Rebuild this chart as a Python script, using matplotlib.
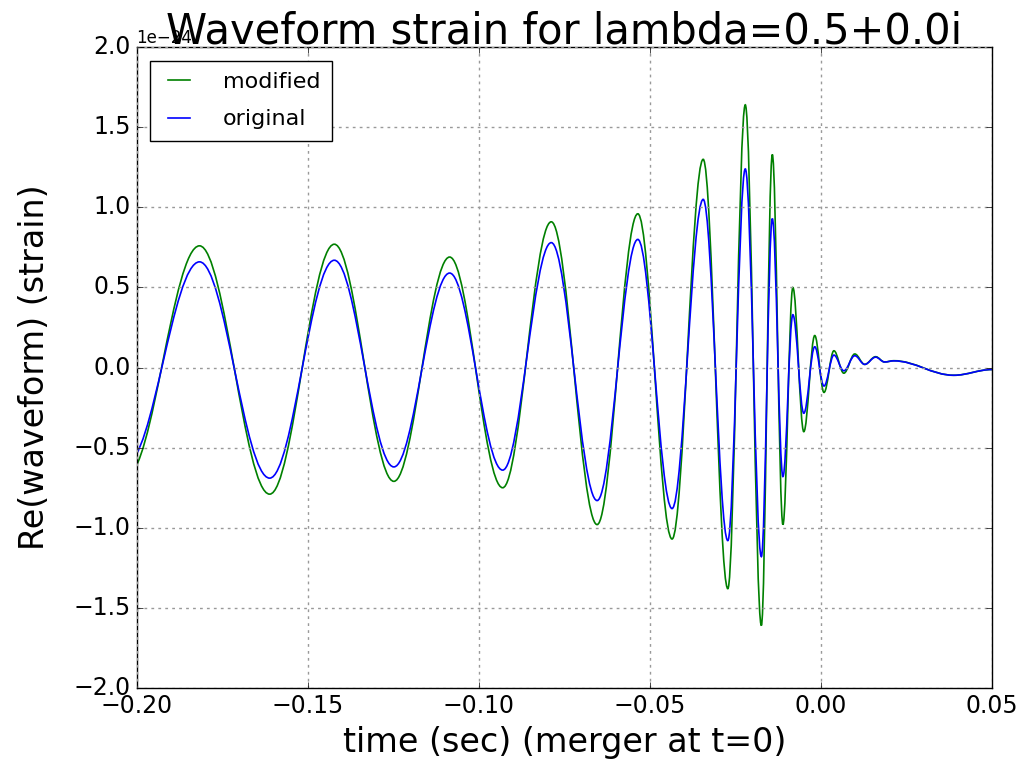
import numpy as np
import matplotlib
matplotlib.use('Agg')
import matplotlib.pyplot as plt
from matplotlib.path import Path
from matplotlib.patches import PathPatch
from matplotlib.lines import Line2D

# turning points of the waveform (time in s, strain in units of 1e-24)
t_ext = np.array([-0.2030, -0.1816, -0.1611, -0.1422, -0.1248, -0.1085, -0.0930,
                  -0.0788, -0.0654, -0.0535, -0.0435, -0.0344, -0.0272, -0.0221,
                  -0.0174, -0.0142, -0.0111, -0.0082, -0.0050, -0.0018, 0.0009,
                  0.0038, 0.0067, 0.0099, 0.0128, 0.0160, 0.0186, 0.0213,
                  0.0388, 0.0500])

h_modified = np.array([-0.68, 0.76, -0.79, 0.77, -0.71, 0.69, -0.75, 0.91, -0.98,
                       0.96, -1.07, 1.30, -1.38, 1.64, -1.61, 1.33, -0.98, 0.50,
                       -0.40, 0.20, -0.155, 0.105, -0.035, 0.085, 0.020, 0.068,
                       0.035, 0.043, -0.048, -0.012])

h_original = np.array([-0.60, 0.66, -0.69, 0.67, -0.62, 0.59, -0.64, 0.78, -0.83,
                       0.80, -0.88, 1.05, -1.08, 1.24, -1.18, 0.93, -0.68, 0.33,
                       -0.285, 0.13, -0.115, 0.078, -0.020, 0.074, 0.020, 0.065,
                       0.035, 0.042, -0.048, -0.012])

scale = 1e-24


def wave_path(t, h, k=0.3642):
    # smooth curve through the turning points (flat tangent at each one)
    verts = [(t[0], h[0])]
    codes = [Path.MOVETO]
    for i in range(len(t) - 1):
        dt = t[i + 1] - t[i]
        verts += [(t[i] + k * dt, h[i]), (t[i + 1] - k * dt, h[i + 1]), (t[i + 1], h[i + 1])]
        codes += [Path.CURVE4] * 3
    return Path(verts, codes)


plt.style.use('classic')
fig = plt.figure(figsize=(10.19, 7.67), dpi=100)
ax = fig.add_axes([0.134, 0.103, 0.8395, 0.8355])

ax.add_patch(PathPatch(wave_path(t_ext, h_modified * scale), fill=False,
                       edgecolor='g', lw=1.2))
ax.add_patch(PathPatch(wave_path(t_ext, h_original * scale), fill=False,
                       edgecolor='b', lw=1.2))

ax.set_xlim(-0.20, 0.05)
ax.set_ylim(-2.0e-24, 2.0e-24)
ax.set_xticks(np.arange(-0.20, 0.051, 0.05))
ax.set_yticks(np.arange(-2.0, 2.01, 0.5) * scale)
ax.tick_params(labelsize=17)
ax.yaxis.get_offset_text().set_fontsize(12)
ax.grid(True, color='0.6', linestyle=(0, (2, 3)), linewidth=1.0)

ax.set_xlabel('time (sec) (merger at t=0)', fontsize=24, labelpad=6)
ax.set_ylabel('Re(waveform) (strain)', fontsize=24)
ax.yaxis.set_label_coords(-0.1, 0.5)
ax.set_title('Waveform strain for lambda=0.5+0.0i', fontsize=30, pad=3)

handles = [Line2D([], [], color='g', lw=1.2), Line2D([], [], color='b', lw=1.2)]
ax.legend(handles, ['modified', 'original'], loc='upper left', fontsize=16,
          borderaxespad=0.6, borderpad=0.5, handlelength=1.6,
          handletextpad=1.2, labelspacing=0.8)

fig.savefig('out.png', dpi=100, facecolor='white')
